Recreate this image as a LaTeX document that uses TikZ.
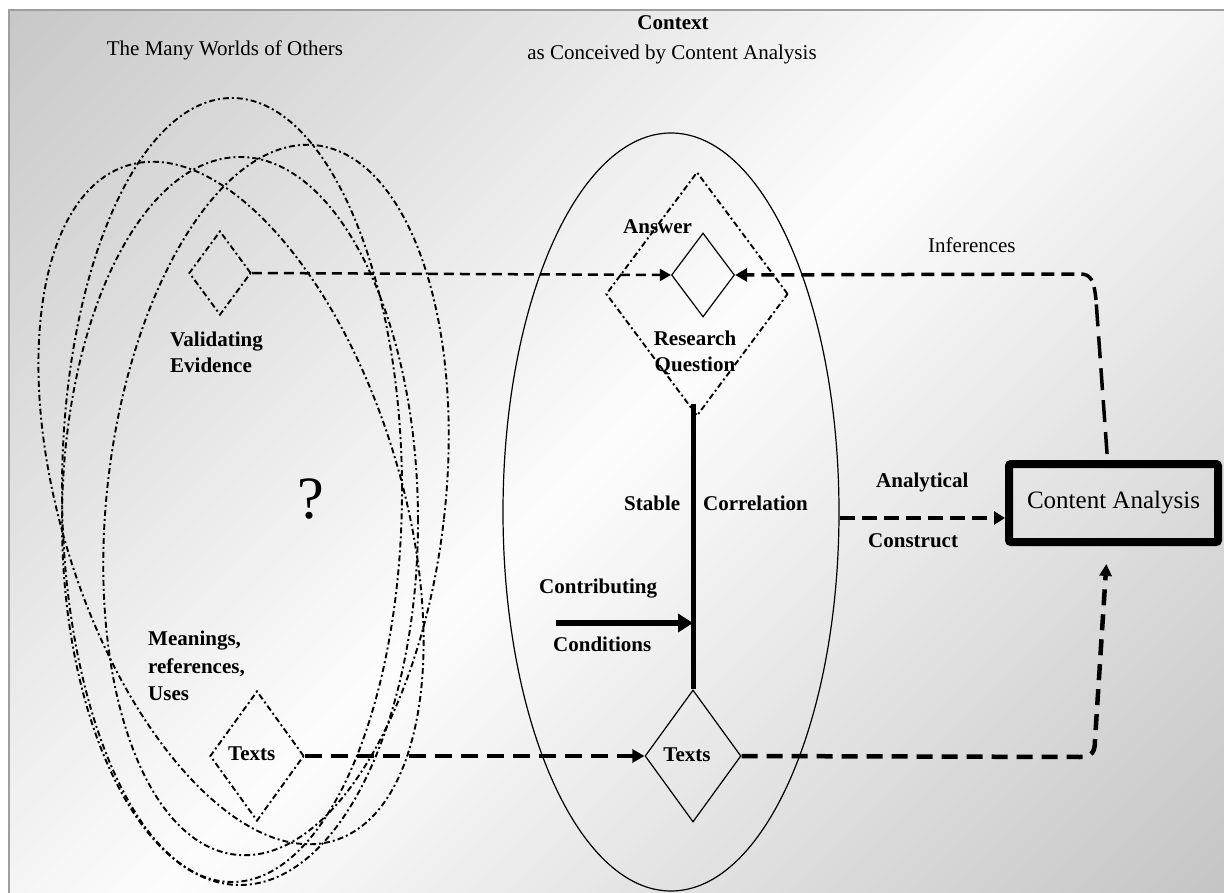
\documentclass[tikz,border=0pt]{standalone}
\usepackage{fontspec}
\setmainfont{Liberation Serif}
\usetikzlibrary{shapes.geometric,arrows.meta,calc}

\definecolor{framegray}{gray}{0.62}

\begin{document}
\begin{tikzpicture}[x=1pt,y=-1pt,
  dashdot/.style={line width=1.9pt, dash pattern=on 6pt off 3pt on 2pt off 3pt},
  lbl/.style={font=\fontsize{21}{24}\selectfont\bfseries, inner sep=0pt},
  plain/.style={font=\fontsize{21}{24}\selectfont, inner sep=0pt},
  dia/.style={diamond, draw, inner sep=0pt, line width=1.2pt},
]
\useasboundingbox (0,0) rectangle (1224,893);
\fill[white] (0,0) rectangle (1224,893);
% background panel: diagonal grey - white - grey gradient built from thin bands
\begin{scope}
  \clip (9,10) rectangle (1224,893);
  \foreach \t in {0,10,...,2120} {
    \pgfmathsetmacro{\g}{\t<1050 ? 0.78+0.21*\t/1050 : 0.99-0.22*(\t-1050)/1070}
    \pgfmathsetmacro{\p}{100*(1-\g)}
    \fill[black!\p] (\t,0) -- (\t+11,0) -- (\t+11-1000,1000) -- (\t-1000,1000) -- cycle;
  }
\end{scope}
\draw[framegray, line width=1.5pt] (9,893) -- (9,10) -- (1224,10);

% the many worlds of others
\draw[dashdot] (232,490) ellipse [x radius=170pt, y radius=392pt];
\draw[dashdot, rotate around={17:(231,503)}] (231,503) ellipse [x radius=170pt, y radius=353pt];
\draw[dashdot] (240,521) ellipse [x radius=178pt, y radius=364pt];
\draw[dashdot, rotate around={-6.5:(276,500)}] (276,500) ellipse [x radius=169pt, y radius=357pt];

% context
\node[draw, ellipse, line width=1.2pt, inner sep=0pt, minimum width=336pt, minimum height=758pt] (ctx) at (671,512) {};

% diamonds
\node[dia, dashdot, minimum width=62pt, minimum height=84pt] (ve) at (220,273) {};
\node[dia, minimum width=63pt, minimum height=84pt] (ans) at (703,275) {};
\node[dia, dashdot, minimum width=182pt, minimum height=244pt] (rq) at (697,294) {};
\node[dia, dashdot, minimum width=94pt, minimum height=130pt] (tl) at (257,756) {};
\node[dia, minimum width=96pt, minimum height=132pt] (tc) at (693,756) {};

% content analysis box
\node[draw, line width=8pt, rounded corners=2pt, minimum width=209pt, minimum height=78pt,
  inner sep=0pt, font=\fontsize{25}{29}\selectfont] (ca) at (1113.5,503) {Content Analysis};

% validating evidence -> answer
\draw[line width=2.5pt, dash pattern=on 10pt off 6pt, -{Triangle[length=11pt,width=12pt]}]
  (ve.east) -- (ans.west);

% inferences: content analysis -> answer
\coordinate (infb) at (1096,300);
\coordinate (infh) at (1080,274);
\draw[line width=3.5pt, dash pattern=on 22pt off 10pt, shorten <=6pt]
  ([xshift=-6pt]ca.north) -- (infb);
\draw[line width=3.5pt, dash pattern=on 13pt off 7pt, -{Triangle[length=12pt,width=13pt]}]
  (infb) .. controls (1094,279) and (1090,274) .. (infh) -- (ans.east);

% analytical construct
\draw[line width=4pt, dash pattern=on 15pt off 7pt, -{Triangle[length=11pt,width=13pt]}]
  ([yshift=-6pt]ctx.east) -- ([yshift=-15pt]ca.west);

% texts -> texts
\draw[line width=4.5pt, dash pattern=on 17pt off 9pt, -{Triangle[length=12pt,width=13pt]}]
  (tl.east) -- (tc.west);

% texts -> content analysis
\coordinate (tcb) at (1080,757);
\coordinate (tcv) at (1095,740);
\draw[line width=4.5pt, dash pattern=on 16pt off 9pt, -{Triangle[length=12pt,width=12pt]}, shorten >=18pt]
  (tc.east) -- (tcb) .. controls (1092,757) and (1095,752) .. (tcv) -- ([xshift=-6pt]ca.south);

% stable correlation
\draw[line width=5pt, shorten <=-13pt] (tc.north |- rq.south) -- (tc.north);

% contributing conditions
\coordinate (ccs) at (556,623);
\draw[line width=6pt, -{Triangle[length=15pt,width=18pt]}] (ccs) -- (ccs -| tc.north);

% labels
\node[plain, anchor=base] (t-worlds) at (225,56) {The Many Worlds of Others};
\node[lbl, anchor=base] (t-context) at (673,30) {Context};
\node[plain, anchor=base] (t-conceived) at (672,60) {as Conceived by Content Analysis};
\node[plain, anchor=base west] (t-inf) at (928,253) {Inferences};
\node[lbl, anchor=base west] (t-answer) at (623,234) {Answer};
\node[lbl, anchor=base] (t-research) at (695,346) {Research};
\node[lbl, anchor=base] (t-question) at (695,372) {Question};
\node[lbl, anchor=base west] (t-valid) at (170,347) {Validating};
\node[lbl, anchor=base west] (t-evid) at (170,373) {Evidence};
\node[lbl, anchor=base west] (t-stable) at (624,510) {Stable};
\node[lbl, anchor=base west] (t-corr) at (703,510) {Correlation};
\node[lbl, anchor=base west] (t-anal) at (876,487) {Analytical};
\node[lbl, anchor=base west] (t-constr) at (868,547) {Construct};
\node[lbl, anchor=base west] (t-contrib) at (539,593) {Contributing};
\node[lbl, anchor=base west] (t-cond) at (553,651) {Conditions};
\node[lbl, anchor=base west] (t-mean) at (148,645) {Meanings,};
\node[lbl, anchor=base west] (t-refs) at (148,673) {references,};
\node[lbl, anchor=base west] (t-uses) at (148,700) {Uses};
\node[lbl, anchor=base west] (t-texts-l) at (228,760) {Texts};
\node[lbl, anchor=base] (t-texts-c) at (687,761) {Texts};
\node[plain, font=\fontsize{60}{64}\selectfont] (t-q) at (311,499) {?};
\end{tikzpicture}
\end{document}
